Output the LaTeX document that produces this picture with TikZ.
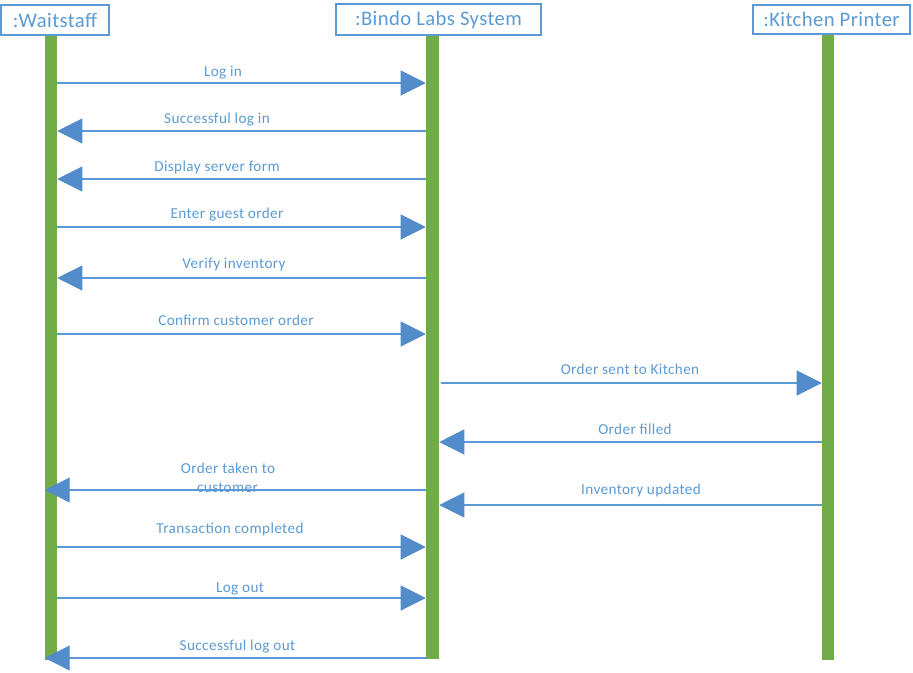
\documentclass[tikz,border=0pt]{standalone}
\usepackage{fontspec}
\setmainfont{Carlito}
\usetikzlibrary{arrows.meta}
\definecolor{txtblue}{RGB}{91,155,213}
\definecolor{lineblue}{RGB}{91,155,213}
\definecolor{headblue}{RGB}{82,140,202}
\definecolor{lifegreen}{RGB}{112,173,71}
\tikzset{
  hdr/.style={draw=lineblue, line width=0.8pt, fill=white, text=txtblue, inner sep=0pt, font=\fontsize{15.5}{18}\selectfont\addfontfeature{LetterSpace=2}},
  life/.style={fill=lifegreen, draw=none, inner sep=0pt},
  msg/.style={draw=lineblue, line width=0.8pt, -{Triangle[length=18.75pt,width=18.75pt,color=headblue]}},
  lbl/.style={text=txtblue, anchor=base, inner sep=0pt, font=\fontsize{11.4}{13}\selectfont\addfontfeature{LetterSpace=2.5}},
}
\begin{document}
\begin{tikzpicture}[x=0.75pt,y=-0.75pt]
\useasboundingbox (0,0) rectangle (913,672);
% lifelines
\node[life, minimum width=9pt, minimum height=468.75pt, anchor=north] (ws) at (51,35) {};
\node[life, minimum width=9.75pt, minimum height=468pt, anchor=north] (bl) at (432.5,35) {};
\node[life, minimum width=9pt, minimum height=468.75pt, anchor=north] (kp) at (828,35) {};
% headers
\node[hdr, minimum width=81pt, minimum height=22.5pt] (wsh) at (55,20) {:Waitstaff};
\node[hdr, minimum width=153.75pt, minimum height=23.25pt] (blh) at (438.5,19.5) {:Bindo Labs System};
\node[hdr, minimum width=117.75pt, minimum height=21.75pt] (kph) at (831.5,19.5) {:Kitchen Printer};
% messages
\draw[msg] (ws.east |- 0,83) -- (bl.west |- 0,83);
\node[lbl] (m1) at (223,76) {Log in};
\draw[msg] (bl.west |- 0,131) -- (ws.east |- 0,131);
\node[lbl] (m2) at (217,123) {Successful log in};
\draw[msg] (bl.west |- 0,179) -- (ws.east |- 0,179);
\node[lbl] (m3) at (217,171) {Display server form};
\draw[msg] (ws.east |- 0,227) -- (bl.west |- 0,227);
\node[lbl] (m4) at (227,218) {Enter guest order};
\draw[msg] (bl.west |- 0,278) -- (ws.east |- 0,278);
\node[lbl] (m5) at (234,268) {Verify inventory};
\draw[msg] (ws.east |- 0,334) -- (bl.west |- 0,334);
\node[lbl] (m6) at (236,325) {Confirm customer order};
\coordinate (s7) at (441,383);
\draw[msg] (s7) -- (kp.west |- s7);
\node[lbl] (m7) at (630,374) {Order sent to Kitchen};
\draw[msg] (kp.west |- 0,442) -- (bl.east |- 0,442);
\node[lbl] (m8) at (635,434) {Order filled};
\draw[msg] (bl.west |- 0,490) -- (ws.west |- 0,490);
\node[lbl] (m9a) at (228,473) {Order taken to};
\node[lbl] (m9b) at (227.5,492) {customer};
\draw[msg] (kp.west |- 0,505) -- (bl.east |- 0,505);
\node[lbl] (m10) at (641,494) {Inventory updated};
\draw[msg] (ws.east |- 0,547) -- (bl.west |- 0,547);
\node[lbl] (m11) at (230,533) {Transaction completed};
\draw[msg] (ws.east |- 0,598) -- (bl.west |- 0,598);
\node[lbl] (m12) at (240,592) {Log out};
\draw[msg] (bl.west |- 0,658) -- (ws.west |- 0,658);
\node[lbl] (m13) at (237.5,650) {Successful log out};
\end{tikzpicture}
\end{document}
